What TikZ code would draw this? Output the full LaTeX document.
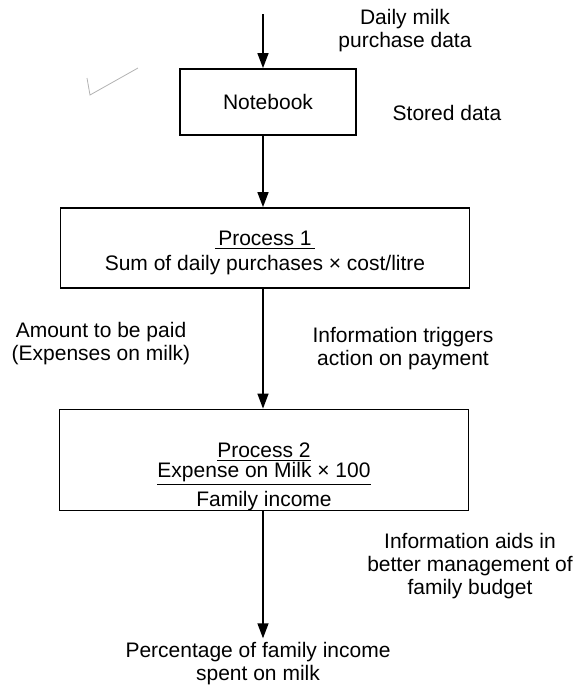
\documentclass[tikz,border=0pt]{standalone}
\usepackage{fontspec}
\setmainfont{Liberation Sans}
\usetikzlibrary{arrows.meta}

\tikzset{
  box/.style={draw, line width=0.9pt, align=center, inner sep=0pt},
  lbl/.style={align=center, inner sep=2pt},
  flow/.style={line width=0.7pt, -{Triangle[length=7.5pt,width=5.5pt]}}
}

\begin{document}
\begin{tikzpicture}[x=0.5pt,y=-0.5pt,font=\fontsize{10.5}{11.5}\selectfont]
\useasboundingbox (0,0) rectangle (574,697);
% boxes
\coordinate (src) at (263,14);
\node[box, minimum width=88pt, minimum height=33pt] (nb) at (268,102) {Notebook};
\node[box, minimum width=204.5pt, minimum height=40pt] (p1) at (265,248)
  {\rule{0pt}{12.5pt}\underline{\,Process 1\,}\\[1pt] Sum of daily purchases × cost/litre};
\node[box, minimum width=204.5pt, minimum height=50.5pt] (p2) at (264,460)
  {\rule{0pt}{24pt}\underline{Process 2}\\[-1.5pt]
   \underline{Expense on Milk × 100}\\[1.5pt] Family income};
% labels
\node[lbl] (daily) at (405,31) {Daily milk\\purchase data};
\node[lbl] (stored) at (447,113) {Stored data};
\node[lbl] (amount) at (101,344) {Amount to be paid\\(Expenses on milk)};
\node[lbl] (trig) at (403,349) {Information triggers\\action on payment};
\node[lbl] (aids) at (470,566) {Information aids in\\better management of\\family budget};
\node[lbl] (result) at (258,664) {Percentage of family income\\spent on milk};
% arrows
\draw[flow] (src) -- (nb.north -| src);
\draw[flow] (nb.south -| src) -- (p1.north -| src);
\draw[flow] (p1.south -| src) -- (p2.north -| src);
\draw[flow] (p2.south -| src) -- (result.north -| src);
% pencil tick
\draw[gray!60, line width=0.4pt] (87,78) -- (90,95) -- (138,68);
\end{tikzpicture}
\end{document}
